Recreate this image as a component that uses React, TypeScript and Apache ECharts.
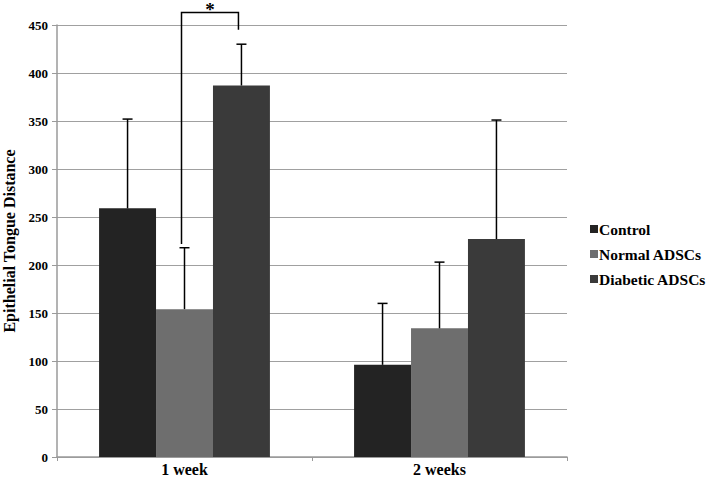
import React, { useEffect, useRef } from "react";
import * as echarts from "echarts";

const categories = ["1 week", "2 weeks"];
const seriesNames = ["Control", "Normal ADSCs", "Diabetic ADSCs"];
const controlValues = [259, 96];
const controlSD = [93, 64];
const normalValues = [154, 134];
const normalSD = [64, 69];
const diabeticValues = [387, 227];
const diabeticSD = [43, 124];
const yTicks = { min: 0, max: 450, interval: 50 };
// significance bracket: category 0, between series 1 and 2
const sigCategory = 0;
const sigFrom = 1;
const sigTo = 2;
const sigLeftBottom = 222;
const sigRightBottom = 445;
const sigTop = 463;
const sigLabel = "*";

const colors = ["#232323", "#6e6e6e", "#3a3a3a"];
const FONT = "'Liberation Serif', 'Times New Roman', serif";
const GAP = 0.33;

export default function App() {
  const ref = useRef<HTMLDivElement>(null);
  useEffect(() => {
    if (!ref.current) return;
    const chart = echarts.init(ref.current, null, { renderer: "svg" });
    const values = [controlValues, normalValues, diabeticValues];
    const sds = [controlSD, normalSD, diabeticSD];

    const offsetFor = (api: any, s: number) => {
      const band = api.size([1, 0])[0];
      const bw = (band * (1 - GAP)) / 3;
      return (s - 1) * bw;
    };

    const barSeries = seriesNames.map((name, i) => ({
      name,
      type: "bar",
      data: values[i],
      barGap: "0%",
      barCategoryGap: GAP * 100 + "%",
      itemStyle: { color: colors[i] },
      z: 2,
    }));

    const errSeries = seriesNames.map((name, s) => ({
      type: "custom",
      name: name + " err",
      z: 5,
      silent: true,
      data: values[s].map((v, c) => [c, v, v + sds[s][c]]),
      renderItem: (params: any, api: any) => {
        const c = api.value(0);
        const base = api.coord([c, api.value(1)]);
        const top = api.coord([c, api.value(2)]);
        const x = base[0] + offsetFor(api, s);
        const style = { stroke: "#000", lineWidth: 1.5, fill: null };
        return {
          type: "group",
          children: [
            { type: "line", shape: { x1: x, y1: base[1], x2: x, y2: top[1] }, style },
            { type: "line", shape: { x1: x - 5, y1: top[1], x2: x + 5, y2: top[1] }, style },
          ],
        };
      },
    }));

    const sigSeries = {
      type: "custom",
      name: "sig",
      z: 6,
      silent: true,
      data: [[sigCategory, sigLeftBottom, sigRightBottom, sigTop]],
      renderItem: (params: any, api: any) => {
        const c = api.value(0);
        const xl = api.coord([c, 0])[0] + offsetFor(api, sigFrom) - 3;
        const xr = api.coord([c, 0])[0] + offsetFor(api, sigTo) - 3;
        const yl = api.coord([c, api.value(1)])[1];
        const yr = api.coord([c, api.value(2)])[1];
        const yt = api.coord([c, api.value(3)])[1];
        return {
          type: "group",
          children: [
            {
              type: "polyline",
              shape: { points: [[xl, yl], [xl, yt], [xr, yt], [xr, yr]] },
              style: { stroke: "#000", lineWidth: 1.5, fill: null },
            },
            {
              type: "text",
              style: {
                text: sigLabel,
                x: (xl + xr) / 2,
                y: yt - 13,
                align: "center",
                verticalAlign: "top",
                font: "bold 19px " + FONT,
                fill: "#000",
              },
            },
          ],
        };
      },
    };

    chart.setOption({
      animation: false,
      backgroundColor: "#fff",
      grid: { left: 57, right: 142, top: 25, bottom: 21, containLabel: false, outerBoundsMode: "none" },
      legend: {
        data: seriesNames,
        orient: "vertical",
        left: 585,
        top: 216,
        itemWidth: 8,
        itemHeight: 8,
        itemGap: 9,
        icon: "rect",
        textStyle: { fontFamily: FONT, fontWeight: "bold", fontSize: 15.5, color: "#000", padding: [0, 0, 0, -4] },
      },
      xAxis: {
        type: "category",
        data: categories,
        axisLine: { lineStyle: { color: "#9a9a9a", width: 1.5 } },
        axisTick: { show: true, length: 4, lineStyle: { color: "#9a9a9a" } },
        axisLabel: { fontFamily: FONT, fontWeight: "bold", fontSize: 16, color: "#000", margin: 4 },
      },
      yAxis: {
        type: "value",
        min: yTicks.min,
        max: yTicks.max,
        interval: yTicks.interval,
        name: "Epithelial Tongue Distance",
        nameLocation: "middle",
        nameGap: 36,
        nameTextStyle: { fontFamily: FONT, fontWeight: "bold", fontSize: 16, color: "#000" },
        axisLine: { show: true, lineStyle: { color: "#9a9a9a", width: 1.5 } },
        axisTick: { show: true, length: 5, lineStyle: { color: "#9a9a9a" } },
        axisLabel: { fontFamily: FONT, fontWeight: "bold", fontSize: 13, color: "#000", margin: 9 },
        splitLine: { lineStyle: { color: "#a0a0a0", width: 1.2 } },
      },
      series: [...barSeries, ...errSeries, sigSeries],
    });
    return () => chart.dispose();
  }, []);
  return <div ref={ref} style={{ position: "absolute", left: 0, top: 0, width: 709, height: 478 }} />;
}
